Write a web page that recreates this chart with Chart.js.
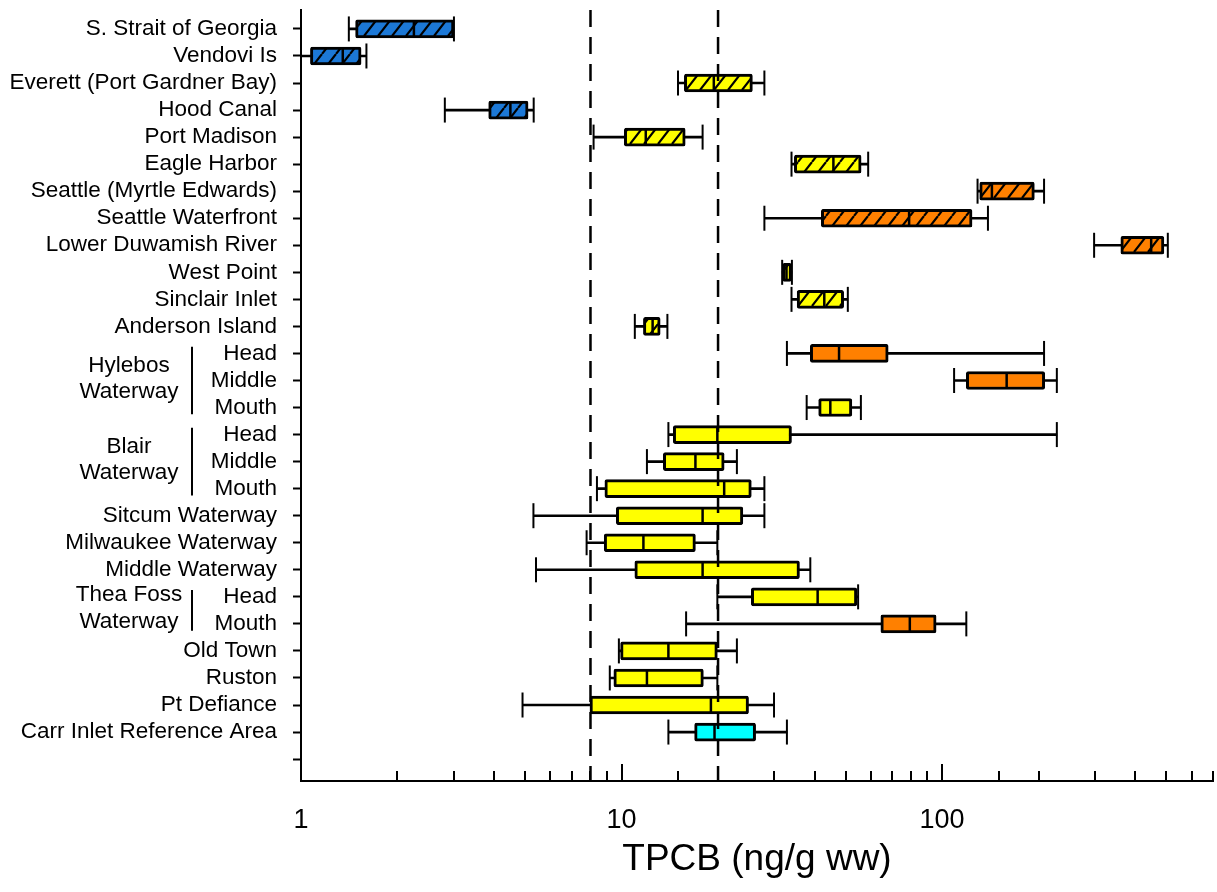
<!DOCTYPE html>
<html>
<head>
<meta charset="utf-8">
<script src="https://cdn.jsdelivr.net/npm/chart.js@4.4.1/dist/chart.umd.min.js"></script>
<style>
html,body{margin:0;padding:0;background:#ffffff;}
canvas{display:block;}
</style>
</head>
<body>
<canvas id="chart" width="1217" height="892"></canvas>
<script>
// ---------------- data ----------------
const siteLabels = [
  'S. Strait of Georgia', 'Vendovi Is', 'Everett (Port Gardner Bay)', 'Hood Canal',
  'Port Madison', 'Eagle Harbor', 'Seattle (Myrtle Edwards)', 'Seattle Waterfront',
  'Lower Duwamish River', 'West Point', 'Sinclair Inlet', 'Anderson Island',
  'Head', 'Middle', 'Mouth',
  'Head', 'Middle', 'Mouth',
  'Sitcum Waterway', 'Milwaukee Waterway', 'Middle Waterway',
  'Head', 'Mouth',
  'Old Town', 'Ruston', 'Pt Defiance', 'Carr Inlet Reference Area', ''
];
const groupTitles = [['Hylebos', 'Waterway'], ['Blair', 'Waterway'], ['Thea Foss', 'Waterway']];
const groupRows = [[12, 14], [15, 17], [21, 22]];

const minValues    = [1.41, 1.0, 15.0, 2.81, 8.18, 33.9, 129, 27.9, 298, 31.7, 33.9, 11.0, 32.8, 109, 37.8, 14.0, 12.0, 8.38, 5.31, 7.78, 5.41, 19.9, 15.9, 9.81, 9.19, 4.91, 14.0];
const q1Values     = [1.48, 1.07, 15.7, 3.85, 10.2, 34.6, 131, 42.0, 361, 31.8, 35.3, 11.7, 38.8, 119, 41.2, 14.5, 13.5, 8.87, 9.63, 8.83, 11.0, 25.4, 64.4, 9.93, 9.46, 7.97, 16.9];
const medianValues = [2.25, 1.35, 19.4, 4.50, 11.9, 45.8, 143, 78.9, 449, 32.7, 42.9, 12.5, 47.7, 159, 44.8, 19.9, 17.0, 20.9, 17.9, 11.7, 17.9, 40.9, 79.3, 14.0, 12.0, 19.0, 19.5];
const q3Values     = [3.0, 1.54, 25.6, 5.11, 15.8, 55.9, 194, 124, 492, 33.9, 49.3, 13.2, 67.9, 209, 52.3, 33.9, 20.9, 25.4, 23.9, 17.0, 35.9, 54.2, 95.8, 19.9, 18.0, 24.9, 26.2];
const maxValues    = [3.0, 1.60, 27.9, 5.32, 17.9, 58.8, 208, 139, 506, 34.0, 50.8, 13.9, 208, 228, 55.8, 228, 22.9, 27.9, 27.9, 19.9, 38.8, 54.7, 119, 22.9, 19.9, 29.9, 32.8];

// colour class of each site box, and whether it is hatched
const siteClass = ['north', 'north', 'mid', 'north', 'mid', 'mid', 'high', 'high', 'high', 'mid', 'mid', 'mid',
  'high', 'high', 'mid', 'mid', 'mid', 'mid', 'mid', 'mid', 'mid', 'mid', 'high', 'mid', 'mid', 'mid', 'ref'];
const siteHatched = [true, true, true, true, true, true, true, true, true, true, true, true,
  false, false, false, false, false, false, false, false, false, false, false, false, false, false, false];

const referenceLevels = [8, 20];
const xLabelValues = [1, 10, 100];
const axisTitle = 'TPCB (ng/g ww)';

// ---------------- styles ----------------
const classColors = { north: '#1C78D6', mid: '#FFFF00', high: '#FF8000', ref: '#00FFFF' };
const FONT = '"Liberation Sans", Arial, Helvetica, sans-serif';
const X_MIN = 1, X_MAX = 700;
const Y_MIN = -0.70, Y_MAX = 27.81;

function makeHatch(color) {
  const c = document.createElement('canvas');
  c.width = 14; c.height = 18;
  const g = c.getContext('2d');
  g.fillStyle = color;
  g.fillRect(0, 0, 14, 18);
  g.strokeStyle = '#000';
  g.lineWidth = 2.2;
  g.beginPath();
  [-14, 0, 14].forEach(o => { g.moveTo(o, 18); g.lineTo(o + 14, 0); });
  g.stroke();
  return g.createPattern(c, 'repeat');
}

const rows = minValues.map((_, i) => i);
const boxFills = rows.map(i => siteHatched[i] ? makeHatch(classColors[siteClass[i]]) : classColors[siteClass[i]]);

const whiskerData = rows.map(i => ({ y: i, x: [minValues[i], maxValues[i]] }));
const boxData = rows.map(i => ({ y: i, x: [q1Values[i], q3Values[i]] }));
const medianData = rows.map(i => ({ x: medianValues[i], y: i }));
const capData = rows.flatMap(i => [{ x: minValues[i], y: i }, { x: maxValues[i], y: i }]);

const refDatasets = referenceLevels.map(v => ({
  type: 'line',
  indexAxis: 'x',
  data: [{ x: v, y: Y_MIN }, { x: v, y: Y_MAX }],
  borderColor: '#000',
  borderWidth: 2.5,
  borderDash: [17, 10],
  pointRadius: 0,
  fill: false,
  order: 0
}));

const decorPlugin = {
  id: 'decor',
  afterDraw(chart) {
    const { ctx, scales: { x, y }, chartArea } = chart;
    ctx.save();
    // inward x ticks
    ctx.strokeStyle = '#000';
    ctx.lineWidth = 2;
    x.ticks.forEach(t => {
      const v = t.value;
      if (v < X_MIN || v > X_MAX) return;
      const lg = Math.log10(v);
      const major = Math.abs(lg - Math.round(lg)) < 1e-9;
      const px = Math.round(x.getPixelForValue(v));
      ctx.beginPath();
      ctx.moveTo(px, chartArea.bottom);
      ctx.lineTo(px, chartArea.bottom - (major ? 17 : 10));
      ctx.stroke();
    });
    // group labels
    ctx.font = '22.5px ' + FONT;
    ctx.fillStyle = '#000';
    ctx.textAlign = 'center';
    ctx.textBaseline = 'middle';
    groupTitles.forEach((lines, k) => {
      const [r0, r1] = groupRows[k];
      const c = (r0 + r1) / 2 - 0.07;
      ctx.fillText(lines[0], 129, y.getPixelForValue(c - 0.49));
      ctx.fillText(lines[1], 129, y.getPixelForValue(c + 0.49));
      ctx.beginPath();
      ctx.moveTo(192, y.getPixelForValue(r0 - 0.25));
      ctx.lineTo(192, y.getPixelForValue(r1 + 0.25));
      ctx.stroke();
    });
    ctx.restore();
  }
};

new Chart(document.getElementById('chart'), {
  type: 'bar',
  data: {
    datasets: [
      ...refDatasets,
      {
        type: 'scatter', indexAxis: 'x', data: medianData,
        pointStyle: 'line', rotation: 90, pointRadius: 8, pointHoverRadius: 8,
        borderColor: '#000', backgroundColor: '#000', borderWidth: 2.5, order: 1
      },
      {
        type: 'scatter', indexAxis: 'x', data: capData,
        pointStyle: 'line', rotation: 90, pointRadius: 12.5, pointHoverRadius: 12.5,
        borderColor: '#000', backgroundColor: '#000', borderWidth: 2, order: 2
      },
      {
        type: 'bar', indexAxis: 'y', data: boxData, grouped: false,
        barThickness: 18, backgroundColor: boxFills, borderColor: '#000',
        borderWidth: 3, borderSkipped: false, borderRadius: 2, order: 3
      },
      {
        type: 'bar', indexAxis: 'y', data: whiskerData, grouped: false,
        barThickness: 2, backgroundColor: '#000', borderWidth: 0, order: 4
      }
    ]
  },
  options: {
    indexAxis: 'y',
    responsive: false,
    animation: false,
    events: [],
    layout: { autoPadding: false, padding: { top: 10, right: 4, bottom: 0, left: 0 } },
    plugins: { legend: { display: false }, tooltip: { enabled: false } },
    scales: {
      x: {
        type: 'logarithmic',
        position: 'bottom',
        min: X_MIN, max: X_MAX,
        offset: false,
        grid: { display: false, drawTicks: false, offset: false },
        border: { display: true, color: '#000', width: 2 },
        ticks: {
          autoSkip: false, maxRotation: 0, minRotation: 0, padding: 23,
          color: '#000', font: { family: FONT, size: 27 },
          callback: (v) => xLabelValues.includes(v) ? String(v) : ''
        },
        title: {
          display: true, text: axisTitle, color: '#000',
          font: { family: FONT, size: 37 }, padding: { top: 0, bottom: 10 }
        },
        afterFit: (s) => { s.height = 111; s.paddingLeft = 0; s.paddingRight = 0; }
      },
      y: {
        type: 'linear',
        position: 'left',
        reverse: true,
        min: Y_MIN, max: Y_MAX,
        offset: false,
        afterBuildTicks: (s) => { s.ticks = siteLabels.map((_, i) => ({ value: i })); },
        grid: { display: true, drawOnChartArea: false, drawTicks: true, tickLength: 8, tickWidth: 2, tickColor: '#000', offset: false },
        border: { display: true, color: '#000', width: 2 },
        ticks: {
          autoSkip: false, padding: 16, color: '#000',
          font: { family: FONT, size: 22.5 },
          callback: (v) => siteLabels[v] !== undefined ? siteLabels[v] : ''
        },
        afterFit: (s) => { s.width = 301; s.paddingTop = 0; s.paddingBottom = 0; }
      }
    }
  },
  plugins: [decorPlugin]
});
</script>
</body>
</html>
